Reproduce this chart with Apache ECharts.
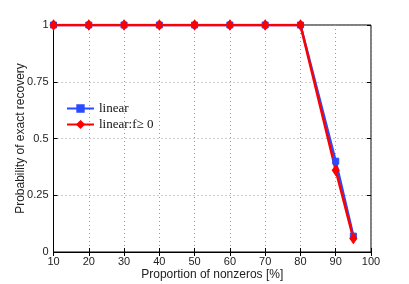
<!DOCTYPE html>
<html><head><meta charset="utf-8">
<script src="https://cdn.jsdelivr.net/npm/echarts@6/dist/echarts.min.js"></script>
<style>html,body{margin:0;padding:0;background:#fff}#c{width:409px;height:284px}</style>
</head><body><div id="c"></div>
<script>
const xValues = [10, 20, 30, 40, 50, 60, 70, 80, 90, 95];
const linearValues = [1, 1, 1, 1, 1, 1, 1, 1, 0.40, 0.07];
const linearNonnegValues = [1, 1, 1, 1, 1, 1, 1, 1, 0.36, 0.06];
const seriesNames = ['linear', 'linear:f\u2265 0'];
const xAxisName = 'Proportion of nonzeros [%]';
const yAxisName = 'Probability of exact recovery';

const chart = echarts.init(document.getElementById('c'), null, {renderer: 'canvas'});
const labelFont = {fontFamily: 'Liberation Sans', fontSize: 11, color: '#222'};
const split = {show: true, lineStyle: {type: [1, 3], color: '#999', width: 1}};
const tick = {show: true, inside: true, length: 4, lineStyle: {color: '#000'}};
chart.setOption({
  animation: false,
  grid: {left: 53.5, right: 38, top: 25, bottom: 32, show: true, borderColor: '#000', borderWidth: 1,
         containLabel: false, outerBoundsMode: 'none'},
  legend: {
    left: 61, top: 97, orient: 'vertical', itemWidth: 27, itemHeight: 8, itemGap: 3,
    textStyle: {fontFamily: 'Liberation Serif', fontSize: 13, color: '#111'},
    data: seriesNames
  },
  xAxis: [{
    type: 'value', min: 10, max: 100, interval: 10,
    name: xAxisName, nameLocation: 'middle', nameGap: 17, nameMoveOverlap: false,
    nameTextStyle: {fontFamily: 'Liberation Sans', fontSize: 12, color: '#222'},
    axisLine: {show: true, lineStyle: {color: '#000'}}, axisTick: tick,
    axisLabel: Object.assign({margin: 4}, labelFont), splitLine: split
  }, {
    type: 'value', min: 10, max: 100, interval: 10, position: 'top',
    axisLine: {show: false}, axisTick: tick, axisLabel: {show: false}, splitLine: {show: false}
  }],
  yAxis: [{
    type: 'value', min: 0, max: 1, interval: 0.25,
    name: yAxisName, nameLocation: 'middle', nameGap: 27, nameMoveOverlap: false,
    nameTextStyle: {fontFamily: 'Liberation Sans', fontSize: 12, color: '#222'},
    axisLine: {show: true, lineStyle: {color: '#000'}}, axisTick: tick,
    axisLabel: Object.assign({margin: 5, formatter: v => String(v)}, labelFont), splitLine: split
  }, {
    type: 'value', min: 0, max: 1, interval: 0.25, position: 'right',
    axisLine: {show: false}, axisTick: tick, axisLabel: {show: false}, splitLine: {show: false}
  }],
  series: [{
    name: seriesNames[0], type: 'line', data: xValues.map((x, i) => [x, linearValues[i]]),
    color: '#2a4bff', symbol: 'rect', symbolSize: 6, showAllSymbol: true,
    lineStyle: {width: 2.5}, itemStyle: {color: '#2a4bff', borderColor: '#2a4bff', borderWidth: 1}
  }, {
    name: seriesNames[1], type: 'line', data: xValues.map((x, i) => [x, linearNonnegValues[i]]),
    color: '#ff0000', symbol: 'diamond', symbolSize: [7, 10], showAllSymbol: true,
    lineStyle: {width: 2.5}, itemStyle: {color: '#ff0000', borderColor: '#ff0000', borderWidth: 1}
  }]
});
</script></body></html>
